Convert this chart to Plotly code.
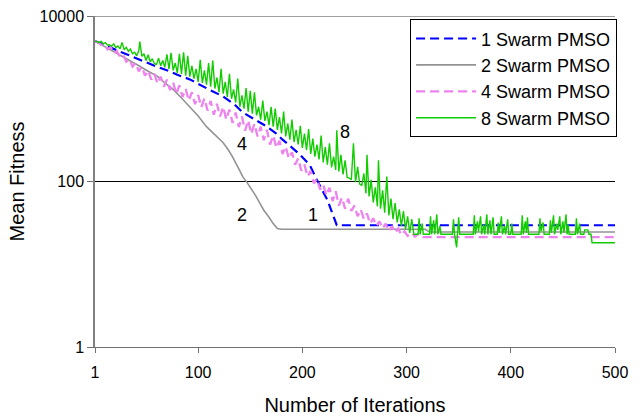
import math
import plotly.graph_objects as go

# ---------------- data ----------------
iter_1 = [1, 10, 20, 30, 40, 50, 60, 73, 80, 92, 100, 110, 124, 135, 143, 155, 166, 175,
          181, 188, 197, 207, 214, 224, 233, 500]
fit_1 = [4970, 4500, 3950, 3500, 3100, 2750, 2450, 2144, 1950, 1714, 1500, 1300, 1065, 850,
         681, 560, 460, 380, 320, 270, 215, 159, 104, 60, 29.6, 29.6]

iter_2 = [1, 10, 20, 28, 36, 44, 52, 61, 68, 76, 84, 92, 100, 108, 116, 124, 129, 133, 138,
          143, 147, 150, 155, 159, 163, 168, 172, 176, 180, 318, 322, 500]
fit_2 = [4970, 4300, 3700, 3265, 2850, 2466, 2150, 1864, 1550, 1296, 1020, 805, 620, 460, 370,
         294, 240, 199, 150, 113, 97, 86, 68, 55, 45, 37, 31, 27, 26.5, 26.5, 24.5, 24.5]

iter_4 = [1, 4, 7, 10, 13, 16, 19, 22, 25, 28, 31, 34, 37, 40, 43, 46, 49, 52, 55, 58, 61, 64,
          67, 70, 73, 76, 79, 82, 85, 88, 91, 94, 97, 100, 103, 106, 109, 112, 115, 118, 121,
          124, 127, 130, 133, 136, 139, 142, 145, 148, 151, 154, 157, 160, 163, 166, 169, 172,
          175, 178, 181, 184, 187, 190, 193, 196, 199, 202, 205, 208, 211, 214, 217, 220, 223,
          226, 229, 232, 235, 238, 241, 244, 247, 250, 253, 256, 259, 262, 265, 268, 271, 274,
          277, 280, 283, 286, 289, 292, 295, 298, 301, 305, 308, 312, 316, 500]
fit_4 = [4970, 4800, 4450, 4550, 3950, 4200, 3550, 3750, 3200, 3400, 2800, 3000, 2450, 2700,
         2150, 2450, 1900, 2200, 1700, 2000, 1520, 1850, 1400, 1700, 1270, 1580, 1140, 1450,
         1050, 1320, 950, 1200, 860, 1110, 790, 1010, 720, 940, 640, 870, 610, 800, 560, 740,
         510, 680, 455, 610, 410, 550, 375, 500, 350, 460, 315, 420, 280, 360, 255, 310, 215,
         265, 190, 225, 160, 190, 135, 160, 115, 135, 95, 108, 80, 92, 68, 84, 58, 76, 51, 64,
         47, 62, 44, 51, 38, 46, 35, 41, 31, 36, 29, 33, 27, 31, 25, 29, 24, 27, 22.5, 25, 22,
         24, 21.5, 23.6, 21.3, 21.3]

iter_8 = [1, 3, 5, 7, 9, 11, 13, 15, 17, 19, 21, 23, 25, 27, 29, 31, 33, 35, 37, 39, 41, 43,
          44, 46, 48, 50, 52, 54, 56, 58, 60, 62, 64, 66, 68, 70, 72, 74, 76, 78, 80, 82, 84,
          86, 88, 90, 92, 94, 96, 98, 100, 102, 104, 106, 108, 110, 112, 114, 116, 118, 120,
          122, 124, 126, 128, 130, 132, 134, 136, 138, 140, 142, 144, 146, 148, 150, 152, 154,
          156, 158, 160, 162, 164, 166, 168, 170, 172, 174, 176, 178, 180, 182, 184, 186, 188,
          190, 192, 194, 196, 198, 200, 202, 204, 206, 208, 210, 212, 214, 216, 218, 220, 222,
          224, 226, 228, 230, 232, 233, 235, 237, 239, 241, 243, 245, 247, 249, 251, 253, 255,
          257, 259, 261, 262, 264, 266, 268, 270, 272, 273, 275, 277, 279, 281, 283, 285, 287,
          289, 291, 293, 295, 297, 299, 301, 303, 305, 307, 311, 312, 313, 315, 316, 322, 323,
          324, 326, 327, 329, 330, 332, 333, 344, 345, 346, 348, 349, 350, 351, 364, 365, 366,
          368, 369, 371, 372, 374, 375, 377, 378, 380, 381, 383, 384, 387, 388, 389, 391, 392,
          394, 395, 397, 398, 400, 401, 402, 410, 411, 412, 414, 415, 416, 417, 427, 428, 429,
          431, 432, 437, 438, 439, 441, 442, 444, 445, 447, 448, 450, 451, 453, 454, 455, 456,
          462, 463, 464, 466, 467, 470, 471, 474, 475, 477, 478, 500]
fit_8 = [4970, 4900, 4800, 4950, 4600, 4750, 4450, 4500, 4300, 4600, 4150, 4350, 4000, 4800,
         3900, 4200, 3750, 4000, 3500, 3650, 3300, 3800, 4900, 3250, 3500, 2900, 3400, 2800,
         3050, 2650, 2600, 3100, 2500, 2900, 2400, 3450, 2300, 3600, 2200, 2700, 2050, 3500,
         2000, 3650, 1900, 3300, 1850, 2500, 1750, 2300, 1600, 2950, 1550, 2200, 1480, 2700,
         1400, 2900, 1330, 1800, 1200, 2300, 1150, 1600, 1050, 2000, 1000, 1300, 900, 1750, 800,
         1100, 760, 1350, 700, 1250, 660, 1200, 630, 800, 560, 950, 540, 700, 480, 800, 460,
         760, 420, 600, 380, 700, 350, 500, 320, 560, 300, 420, 280, 470, 255, 380, 240, 430,
         215, 330, 200, 280, 185, 360, 170, 260, 160, 290, 148, 200, 138, 415, 132, 210, 122,
         180, 112, 110, 105, 290, 98, 150, 93, 90, 125, 72, 210, 66, 105, 56, 85, 50, 180, 47,
         78, 42, 115, 39, 62, 35, 55, 32, 46, 29, 44, 26.5, 38, 24, 35, 23, 23, 36, 23, 31, 23,
         23, 38, 23, 34, 23, 40, 23, 29, 23, 23, 35, 23, 16, 23, 37, 23, 23, 39, 23, 33, 25, 38,
         23, 30, 23, 40, 23, 34, 23, 37, 23, 23, 32, 24, 38, 23, 29, 23, 35, 23, 23, 31, 23, 23,
         39, 23, 33, 24, 37, 23, 23, 36, 25, 32, 23, 23, 34, 24, 39, 23, 31, 26, 38, 23, 33, 24,
         40, 23, 30, 23, 23, 36, 23, 31, 23, 23, 26, 26, 23, 23, 18.2, 18.2]

series_names = ["1 Swarm PMSO", "2 Swarm PMSO", "4 Swarm PMSO", "8 Swarm PMSO"]
x_ticks = [1, 100, 200, 300, 400, 500]
y_ticks = [1, 100, 10000]
y_tick_text = ["1", "100", "10000"]
curve_labels = ["4", "8", "2", "1"]
label_iter = [142, 241, 142, 210]
label_fit = [287, 396, 39, 39]
grid_value = 100
top_value = 10000

# ---------------- figure ----------------
FONT = "Liberation Sans, Arial, sans-serif"
fig = go.Figure()
fig.add_trace(go.Scatter(x=iter_1, y=fit_1, mode="lines", name=series_names[0],
                         line=dict(color="#0000ff", width=2.2, dash="9px,5px")))
fig.add_trace(go.Scatter(x=iter_2, y=fit_2, mode="lines", name=series_names[1],
                         line=dict(color="#939393", width=1.6)))
fig.add_trace(go.Scatter(x=iter_4, y=fit_4, mode="lines", name=series_names[2],
                         line=dict(color="#ee82ee", width=2.3, dash="9px,5px")))
fig.add_trace(go.Scatter(x=iter_8, y=fit_8, mode="lines", name=series_names[3],
                         line=dict(color="#11cc00", width=1.4)))

for t, xi, yi in zip(curve_labels, label_iter, label_fit):
    fig.add_annotation(x=xi, y=math.log10(yi), text=t, showarrow=False,
                       font=dict(family=FONT, size=18, color="black"))

fig.add_shape(type="line", xref="paper", yref="y", x0=0, x1=1, y0=grid_value, y1=grid_value,
              line=dict(color="black", width=1), layer="below")
fig.add_shape(type="line", xref="paper", yref="y", x0=0, x1=1, y0=top_value, y1=top_value,
              line=dict(color="#808080", width=1.5), layer="below")

fig.update_layout(
    template="none",
    width=643, height=419,
    margin=dict(l=95, r=28, t=16, b=72, pad=0),
    paper_bgcolor="white", plot_bgcolor="white",
    font=dict(family=FONT, size=16, color="black"),
    showlegend=True,
    legend=dict(x=1.004, y=0.990, xanchor="right", yanchor="top",
                bordercolor="black", borderwidth=1, bgcolor="white",
                font=dict(family=FONT, size=18, color="black"),
                tracegroupgap=0, itemwidth=60),
    xaxis=dict(range=[1, 500], tickvals=x_ticks, ticktext=[str(v) for v in x_ticks],
               showgrid=False, zeroline=False, showline=True, linecolor="#707070", linewidth=1,
               ticks="outside", ticklen=5, tickcolor="#707070", ticklabelstandoff=6,
               tickfont=dict(family=FONT, size=16),
               title=dict(text="Number of Iterations", font=dict(family=FONT, size=20), standoff=17),
               automargin=False),
    yaxis=dict(type="log", range=[0, 4], tickvals=y_ticks, ticktext=y_tick_text,
               showgrid=False, zeroline=False, showline=True, linecolor="#808080", linewidth=1.5,
               ticks="outside", ticklen=6, tickcolor="#707070",
               tickfont=dict(family=FONT, size=16),
               title=dict(text="Mean Fitness", font=dict(family=FONT, size=20), standoff=10),
               automargin=False),
)

fig.write_html("out.html", config={"displayModeBar": False},
               post_script="document.body.style.margin='0';")
